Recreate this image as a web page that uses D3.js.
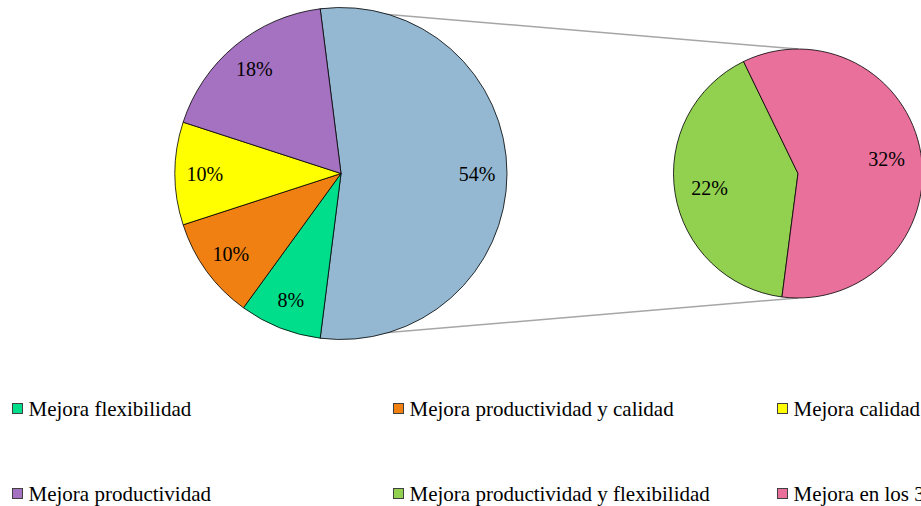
<!DOCTYPE html>
<html>
<head>
<meta charset="utf-8">
<script src="https://cdn.jsdelivr.net/npm/d3@7"></script>
<style>
  body { margin: 0; background: #fff; overflow: hidden; }
</style>
</head>
<body>
<div id="container"></div>
<script>
// categories in legend order
const categories = [
  "Mejora flexibilidad",
  "Mejora productividad y calidad",
  "Mejora calidad",
  "Mejora productividad",
  "Mejora productividad y flexibilidad",
  "Mejora en los 3 aspectos"
];
const values = [8, 10, 10, 18, 22, 32];
const colors = ["#00DE8B", "#F08012", "#FFFF00", "#A572C1", "#92D050", "#E9709B"];
const otherColor = "#94B8D1";
// last two categories go to the secondary pie
const splitAt = 4;

const font = "'Liberation Serif', 'Times New Roman', Tinos, 'DejaVu Serif', serif";
const width = 921, height = 506;
const svg = d3.select("#container").append("svg")
  .attr("width", width)
  .attr("height", height)
  .style("display", "block");

const deg = Math.PI / 180;

// main pie: "other" slice first, then first categories
const mainData = [{ name: "Otros", value: d3.sum(values.slice(splitAt)), color: otherColor }]
  .concat(categories.slice(0, splitAt).map((c, i) => ({ name: c, value: values[i], color: colors[i] })));
const subData = categories.slice(splitAt).map((c, i) => ({ name: c, value: values[splitAt + i], color: colors[splitAt + i] }));

const mainC = { x: 341, y: 173.5, r: 166 };
const subC = { x: 798, y: 173.5, r: 124.5 };

const otherShare = mainData[0].value / d3.sum(values);
const mainStart = 90 * deg - otherShare * Math.PI; // other slice centred to the right
const mainPie = d3.pie().sort(null).value(d => d.value)
  .startAngle(mainStart).endAngle(mainStart + 2 * Math.PI);
const subStart = 187.4 * deg;
const subPie = d3.pie().sort(null).value(d => d.value)
  .startAngle(subStart).endAngle(subStart + 2 * Math.PI);

const mainArcs = mainPie(mainData);
const subArcs = subPie(subData);

// connector lines from the "other" slice edges to the secondary pie
const o = mainArcs[0];
const pt = (c, a) => [c.x + c.r * Math.sin(a), c.y - c.r * Math.cos(a)];
const lines = [
  [pt(mainC, o.startAngle), [subC.x, subC.y - subC.r]],
  [pt(mainC, o.endAngle), [subC.x, subC.y + subC.r]]
];
svg.selectAll("line.conn")
  .data(lines)
  .enter().append("line")
  .attr("class", "conn")
  .attr("x1", d => d[0][0]).attr("y1", d => d[0][1])
  .attr("x2", d => d[1][0]).attr("y2", d => d[1][1])
  .attr("stroke", "#A6A6A6")
  .attr("stroke-width", 1.5);

function drawPie(arcs, c, labelR) {
  const g = svg.append("g").attr("transform", `translate(${c.x},${c.y})`);
  const arc = d3.arc().innerRadius(0).outerRadius(c.r);
  const lab = d3.arc().innerRadius(labelR).outerRadius(labelR);
  const total = d3.sum(values);
  g.selectAll("path")
    .data(arcs)
    .enter().append("path")
    .attr("d", arc)
    .attr("fill", d => d.data.color)
    .attr("stroke", "#000")
    .attr("stroke-width", 0.8);
  g.selectAll("text")
    .data(arcs)
    .enter().append("text")
    .attr("transform", d => `translate(${lab.centroid(d)})`)
    .attr("text-anchor", "middle")
    .attr("dy", "0.35em")
    .attr("font-family", font)
    .attr("font-size", 20)
    .attr("fill", "#000")
    .text(d => Math.round(d.data.value / total * 100) + "%");
}

drawPie(mainArcs, mainC, mainC.r * 0.82);
drawPie(subArcs, subC, subC.r * 0.72);

// legend: 3 columns, 2 rows
const colX = [12.5, 393.5, 777.5];
const rowY = [403.5, 488.5];
const legend = svg.append("g");
const items = legend.selectAll("g")
  .data(categories)
  .enter().append("g")
  .attr("transform", (d, i) => `translate(${colX[i % 3]},${rowY[Math.floor(i / 3)]})`);
items.append("rect")
  .attr("width", 10).attr("height", 10)
  .attr("fill", (d, i) => colors[i])
  .attr("stroke", "#404040")
  .attr("stroke-width", 1);
items.append("text")
  .attr("x", 16)
  .attr("y", 12)
  .attr("font-family", font)
  .attr("font-size", 21)
  .attr("fill", "#000")
  .text(d => d);
</script>
</body>
</html>
